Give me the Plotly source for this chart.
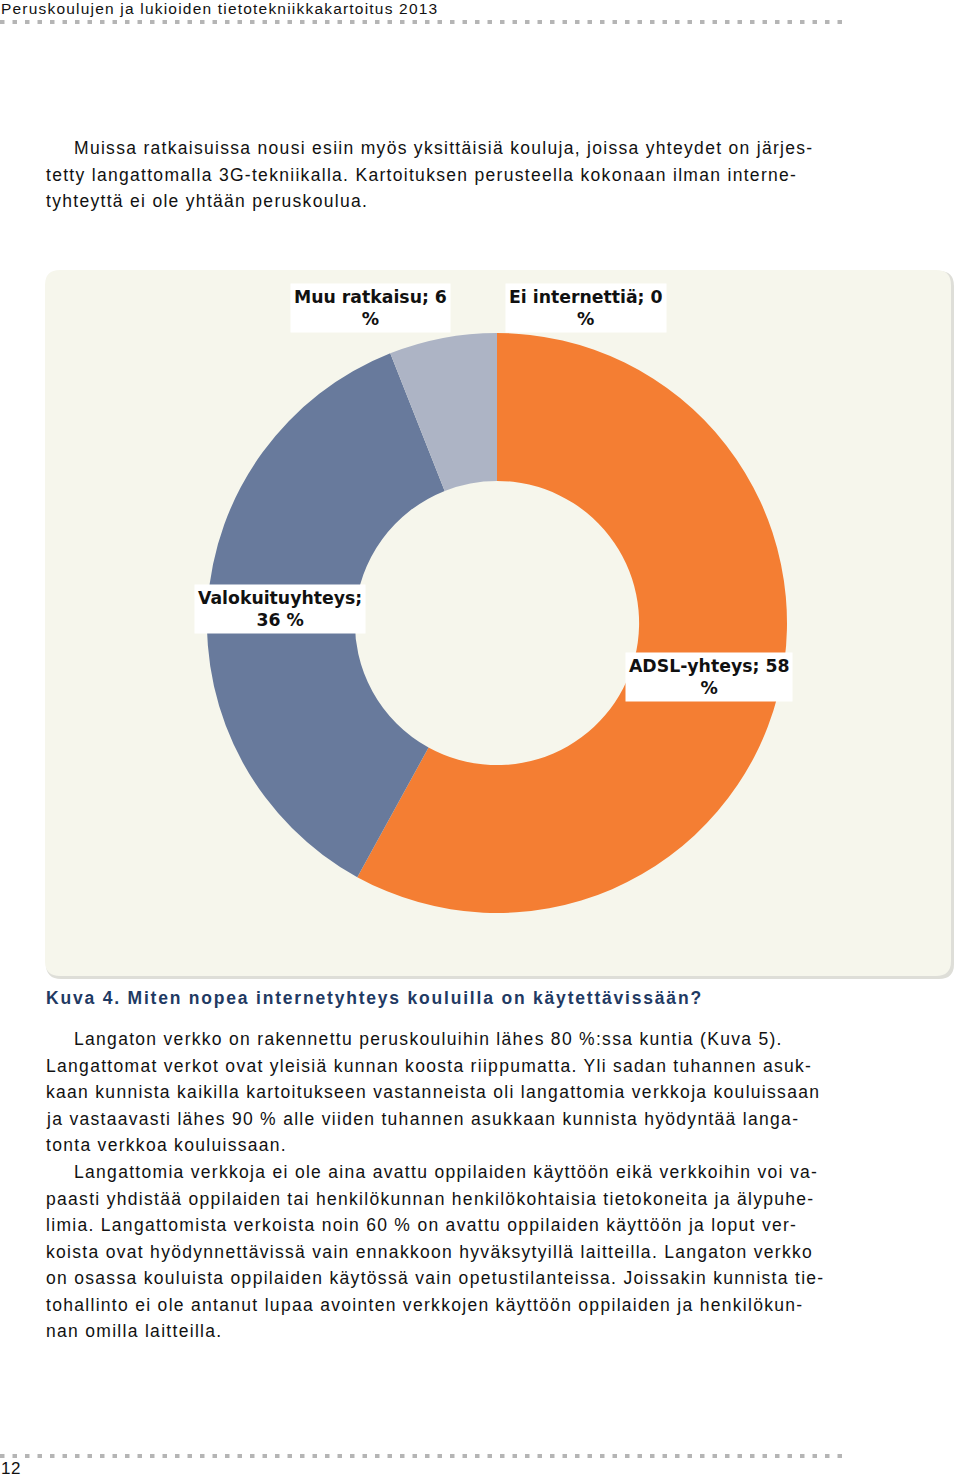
import json
import plotly.graph_objects as go

# ---- data ----
labels = ["ADSL-yhteys", "Valokuituyhteys", "Muu ratkaisu", "Ei internettiä"]
values = [58, 36, 6, 0]
colors = ["#F47E33", "#687A9C", "#ADB4C5", "#D9D9D9"]

header = "Peruskoulujen ja lukioiden tietotekniikkakartoitus 2013"
caption = "Kuva 4. Miten nopea internetyhteys kouluilla on käytettävissään?"
para1 = [
    "Muissa ratkaisuissa nousi esiin myös yksittäisiä kouluja, joissa yhteydet on järjes-",
    "tetty langattomalla 3G-tekniikalla. Kartoituksen perusteella kokonaan ilman interne-",
    "tyhteyttä ei ole yhtään peruskoulua.",
]
para2 = [
    "Langaton verkko on rakennettu peruskouluihin lähes 80 %:ssa kuntia (Kuva 5).",
    "Langattomat verkot ovat yleisiä kunnan koosta riippumatta. Yli sadan tuhannen asuk-",
    "kaan kunnista kaikilla kartoitukseen vastanneista oli langattomia verkkoja kouluissaan",
    "ja vastaavasti lähes 90 % alle viiden tuhannen asukkaan kunnista hyödyntää langa-",
    "tonta verkkoa kouluissaan.",
]
para3 = [
    "Langattomia verkkoja ei ole aina avattu oppilaiden käyttöön eikä verkkoihin voi va-",
    "paasti yhdistää oppilaiden tai henkilökunnan henkilökohtaisia tietokoneita ja älypuhe-",
    "limia. Langattomista verkoista noin 60 % on avattu oppilaiden käyttöön ja loput ver-",
    "koista ovat hyödynnettävissä vain ennakkoon hyväksytyillä laitteilla. Langaton verkko",
    "on osassa kouluista oppilaiden käytössä vain opetustilanteissa. Joissakin kunnista tie-",
    "tohallinto ei ole antanut lupaa avointen verkkojen käyttöön oppilaiden ja henkilökun-",
    "nan omilla laitteilla.",
]
page_no = "12"

W, H = 960, 1479
BODY_FONT = dict(family="Liberation Sans, Arial, sans-serif", size=17.5, color="#111111")
LBL_FONT = dict(family="DejaVu Sans, Verdana, sans-serif", size=17.3, color="#111111", weight="bold")

fig = go.Figure()

fig.add_trace(go.Pie(
    labels=labels, values=values, sort=False, direction="clockwise", rotation=0,
    hole=0.49, marker=dict(colors=colors, line=dict(width=0)),
    textinfo="none", hoverinfo="label+percent", showlegend=False,
    domain=dict(x=[207 / W, 787 / W], y=[1 - 913 / H, 1 - 333 / H]),
))

shapes = []
def rrect(x0, y0, x1, y1, r):
    return (f"M{x0+r},{y0} L{x1-r},{y0} Q{x1},{y0} {x1},{y0+r} L{x1},{y1-r} "
            f"Q{x1},{y1} {x1-r},{y1} L{x0+r},{y1} Q{x0},{y1} {x0},{y1-r} "
            f"L{x0},{y0+r} Q{x0},{y0} {x0+r},{y0} Z")

# panel shadow + panel
shapes.append(dict(type="path", path=rrect(46, 271, 954, 979, 15), xref="x", yref="y",
                   fillcolor="#DEDED8", line=dict(width=0), layer="below"))
shapes.append(dict(type="path", path=rrect(45, 270, 951, 976, 15), xref="x", yref="y",
                   fillcolor="#F6F6EC", line=dict(width=0), layer="below"))
# dotted rules
for yy in (22, 1456):
    shapes.append(dict(type="line", x0=0, x1=848, y0=yy, y1=yy, xref="x", yref="y",
                       line=dict(color="#B5B5B5", width=4, dash="4.5px,8px")))

ann = []
spacing = {}  # annotation index -> letter spacing (px)

def add(a, ls=None):
    if ls is not None:
        spacing[len(ann)] = ls
        a["align"] = "left"
        a["borderpad"] = 0
    ann.append(a)

add(dict(x=0, y=8, text=header, xanchor="left", yanchor="middle", showarrow=False,
         font=dict(family="Liberation Sans, Arial, sans-serif", size=15.5, color="#111111")), 1.2)
add(dict(x=0, y=1468, text=page_no, xanchor="left", yanchor="middle", showarrow=False,
         font=dict(family="Liberation Sans, Arial, sans-serif", size=17, color="#111111")), 0.5)

def add_para(lines, y0, step=26.5):
    for i, t in enumerate(lines):
        add(dict(x=73 if i == 0 else 45, y=y0 + i * step, text=t, xanchor="left",
                 yanchor="middle", showarrow=False, font=BODY_FONT), 1.3)

add_para(para1, 148)
add_para(para2, 1039)
add_para(para3, 1172)

add(dict(x=45, y=998, text=caption, xanchor="left", yanchor="middle", showarrow=False,
         font=dict(family="Liberation Sans, Arial, sans-serif", size=17.5,
                   color="#1F3A63", weight="bold")), 1.8)

# slice labels (white boxes)
lbls = [
    (f"{labels[2]}; {values[2]}<br>%", 370, 308),
    (f"{labels[3]}; {values[3]}<br>%", 586, 308),
    (f"{labels[1]};<br>{values[1]} %", 280, 609),
    (f"{labels[0]}; {values[0]}<br>%", 709, 677),
]
for t, x, y in lbls:
    add(dict(x=x, y=y, text=t, xanchor="center", yanchor="middle", showarrow=False,
             bgcolor="white", borderpad=3, font=LBL_FONT))

fig.update_layout(
    width=W, height=H, margin=dict(l=0, r=0, t=0, b=0),
    paper_bgcolor="white", plot_bgcolor="rgba(0,0,0,0)",
    xaxis=dict(range=[0, W], visible=False, fixedrange=True),
    yaxis=dict(range=[H, 0], visible=False, fixedrange=True),
    shapes=shapes, annotations=ann,
)

js = """
document.body.style.margin = '0';
document.body.style.padding = '0';
(function(){
  var sp = %s;
  function apply(){
    var gd = document.getElementById('{plot_id}');
    if(!gd) return;
    gd.querySelectorAll('g.annotation').forEach(function(g){
      var i = g.getAttribute('data-index');
      if(sp.hasOwnProperty(i)){
        g.querySelectorAll('text').forEach(function(t){
          t.style.letterSpacing = sp[i] + 'px';
          t.setAttribute('text-anchor', 'start');
        });
      }
    });
  }
  apply();
  setTimeout(apply, 50);
  setTimeout(apply, 300);
})();
""" % json.dumps({str(k): v for k, v in spacing.items()})

fig.write_html("out.html", post_script=js, config={"displayModeBar": False})
